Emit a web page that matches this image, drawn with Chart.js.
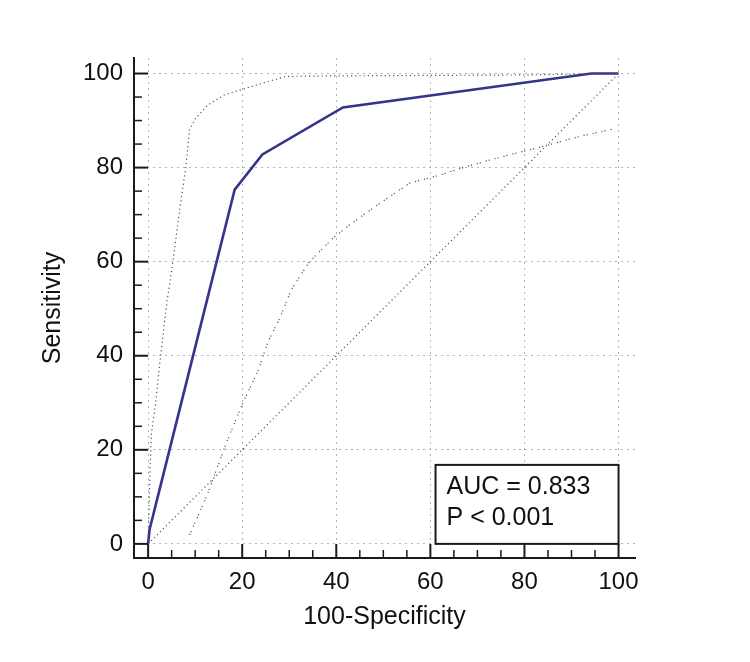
<!DOCTYPE html>
<html>
<head>
<meta charset="utf-8">
<script src="https://cdn.jsdelivr.net/npm/chart.js@4.4.0/dist/chart.umd.min.js"></script>
<style>
    html, body { margin: 0; padding: 0; background: #fff; }
    #wrap { width: 750px; height: 662px; }
</style>
</head>
<body>
<div id="wrap"><canvas id="rocChart"></canvas></div>
<script>
// ROC curve (100-specificity vs sensitivity)
const rocX = [0, 0.3, 1.7, 18.4, 24.3, 41.4, 94.2, 100];
const rocY = [0, 3, 8.6, 75.3, 82.8, 92.8, 100, 100];

// upper confidence bound
const upperX = [0, 0.3, 0.7, 1.6, 2.4, 4, 4.6, 5.6, 6.7, 8, 8.8, 10.1, 12.7, 16.3, 20.9, 25.5, 29.4, 40, 60, 80, 100];
const upperY = [0, 12, 23.5, 29.9, 37.7, 51.5, 55.4, 62.5, 71, 80, 88, 90.5, 93.3, 95.5, 96.9, 98.3, 99.4, 99.5, 99.6, 99.7, 100];

// lower confidence bound
const lowerX = [8.8, 12.4, 16.6, 20.1, 23.3, 25.5, 28, 30.4, 34.3, 39.3, 42.8, 47.8, 50.3, 55.6, 62, 66.6, 72.6, 78.3, 83.9, 92.4, 98.8];
const lowerY = [1.9, 10, 21.4, 29.9, 36.6, 43, 48, 54, 60, 65, 67.8, 71.4, 73.1, 76.7, 78.4, 79.9, 81.6, 83.1, 84.5, 86.8, 88.2];

// chance diagonal
const refX = [0, 100];
const refY = [0, 100];

const tickValues = [0, 20, 40, 60, 80, 100];
const minorTicks = [5, 10, 15, 25, 30, 35, 45, 50, 55, 65, 70, 75, 85, 90, 95];

const xTitle = '100-Specificity';
const yTitle = 'Sensitivity';
const boxLines = ['AUC = 0.833', 'P < 0.001'];

const FONT = '"Liberation Sans", Arial, sans-serif';

function toPoints(xs, ys) {
    return xs.map((x, i) => ({x: x, y: ys[i]}));
}

// inward tick marks + AUC box
const medcalcDecor = {
    id: 'medcalcDecor',
    afterDatasetsDraw(chart) {
        const ctx = chart.ctx;
        const area = chart.chartArea;
        const x = chart.scales.x;
        const y = chart.scales.y;
        ctx.save();
        ctx.strokeStyle = '#1a1a1a';

        ctx.lineWidth = 2;
        tickValues.forEach(v => {
            let px = x.getPixelForValue(v);
            ctx.beginPath(); ctx.moveTo(px, area.bottom); ctx.lineTo(px, area.bottom - 14); ctx.stroke();
            let py = y.getPixelForValue(v);
            ctx.beginPath(); ctx.moveTo(area.left, py); ctx.lineTo(area.left + 14, py); ctx.stroke();
        });
        ctx.lineWidth = 1.5;
        minorTicks.forEach(v => {
            let px = x.getPixelForValue(v);
            ctx.beginPath(); ctx.moveTo(px, area.bottom); ctx.lineTo(px, area.bottom - 8); ctx.stroke();
            let py = y.getPixelForValue(v);
            ctx.beginPath(); ctx.moveTo(area.left, py); ctx.lineTo(area.left + 8, py); ctx.stroke();
        });

        // text box sits in the bottom-right corner of the data range
        let right = x.getPixelForValue(100);
        let bottom = y.getPixelForValue(0);
        let w = 183, h = 79;
        ctx.fillStyle = '#fff';
        ctx.fillRect(right - w, bottom - h, w, h);
        ctx.lineWidth = 2;
        ctx.strokeRect(right - w, bottom - h, w, h);
        ctx.fillStyle = '#111';
        ctx.font = '25px ' + FONT;
        ctx.textBaseline = 'alphabetic';
        ctx.fillText(boxLines[0], right - w + 11, bottom - h + 29);
        ctx.fillText(boxLines[1], right - w + 11, bottom - h + 60);
        ctx.restore();
    }
};

function axisOptions(min, max, title, titlePad) {
    return {
        type: 'linear',
        min: min,
        max: max,
        afterBuildTicks: s => { s.ticks = tickValues.map(v => ({value: v})); },
        ticks: {
            autoSkip: false,
            maxRotation: 0,
            color: '#111',
            font: {family: FONT, size: 24}
        },
        grid: {
            color: '#b3b3b3',
            lineWidth: 1,
            drawTicks: false
        },
        border: {
            display: true,
            color: '#1a1a1a',
            width: 2,
            dash: [2, 4]
        },
        title: {
            display: true,
            text: title,
            color: '#111',
            font: {family: FONT, size: 25},
            padding: titlePad
        }
    };
}

const xAxis = axisOptions(-3, 103.5, xTitle, {top: 0, bottom: 30});
xAxis.ticks.padding = 10;
xAxis.afterFit = s => { s.height = 104; };

const yAxis = axisOptions(-3, 103.3, yTitle, {top: 38, bottom: 0});
yAxis.ticks.padding = 11;
yAxis.afterFit = s => { s.width = 134; };

const dotted = {
    borderColor: '#555',
    borderWidth: 1.2,
    pointRadius: 0,
    showLine: true,
    fill: false
};

new Chart(document.getElementById('rocChart').getContext('2d'), {
    type: 'scatter',
    data: {
        datasets: [
            Object.assign({label: 'diagonal', data: toPoints(refX, refY), borderDash: [1.2, 3]}, dotted),
            Object.assign({label: 'upper', data: toPoints(upperX, upperY), borderDash: [1.2, 3]}, dotted),
            Object.assign({label: 'lower', data: toPoints(lowerX, lowerY), borderDash: [1.2, 1.8, 1.2, 5]}, dotted),
            {
                label: 'ROC',
                data: toPoints(rocX, rocY),
                borderColor: '#33348a',
                borderWidth: 2.6,
                pointRadius: 0,
                showLine: true,
                fill: false
            }
        ]
    },
    options: {
        responsive: true,
        maintainAspectRatio: false,
        animation: false,
        layout: {padding: {left: 0, right: 115, top: 58, bottom: 0}},
        scales: {x: xAxis, y: yAxis},
        plugins: {
            legend: {display: false},
            tooltip: {enabled: false}
        }
    },
    plugins: [medcalcDecor]
});
</script>
</body>
</html>
